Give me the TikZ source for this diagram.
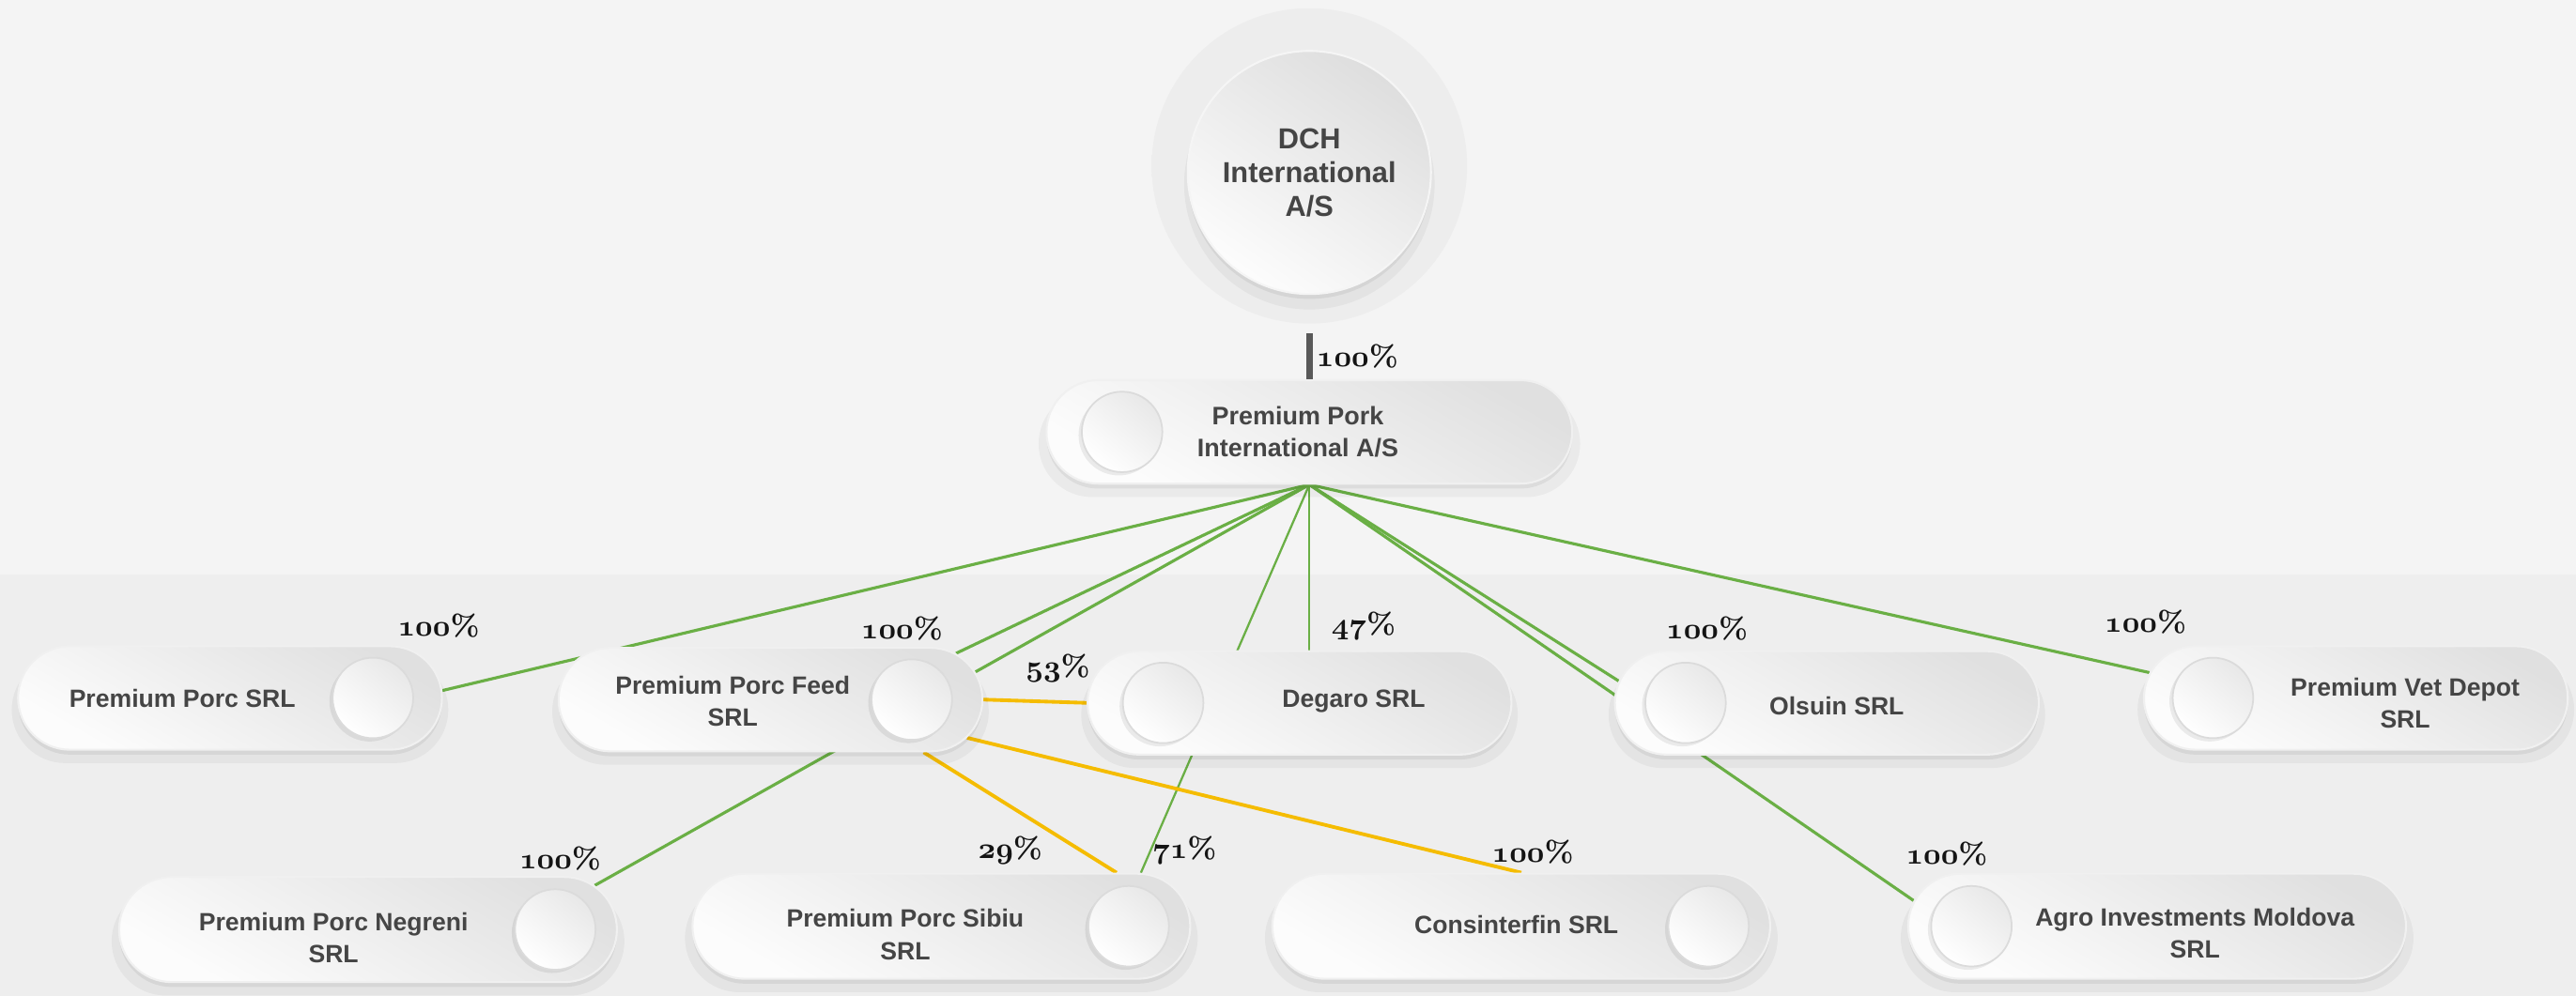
\documentclass[tikz,border=0pt]{standalone}
\usepackage{fontspec}
\newfontfamily\boxfont{Liberation Sans}
\usetikzlibrary{shapes.misc,shadows}
\definecolor{bgtop}{HTML}{F4F4F4}
\definecolor{bgbot}{HTML}{EEEEEE}
\definecolor{owngreen}{HTML}{6AAF45}
\definecolor{crossyellow}{HTML}{F5BC00}
\definecolor{boxtext}{HTML}{454545}
\pgfdeclarelayer{back}
\pgfdeclarelayer{links}
\pgfsetlayers{back,links,main}
\pgfdeclareradialshading{haloshade}{\pgfpoint{0bp}{0bp}}{color(0bp)=(black!7); color(37bp)=(black!7); color(39bp)=(black!5.5); color(50bp)=(bgtop)}
\newcommand\pc[1]{{\usefont{OML}{cmm}{b}{it}#1}\%}
\tikzset{
  softshadow/.style={drop shadow={shadow xshift=0pt,shadow yshift=-3.5pt,shadow scale=1.03,opacity=0.04,fill=black},
                     drop shadow={shadow xshift=0pt,shadow yshift=-1.5pt,opacity=0.06,fill=black}},
  pill/.style={rounded rectangle, minimum height=31.5pt, minimum width=129pt, inner sep=0pt,
               draw=black!6, line width=0.6pt, top color=black!12, bottom color=black!1, shading angle=-30, softshadow},
  widepill/.style={minimum width=151.5pt, minimum height=32pt},
  knob/.style={circle, minimum size=24.5pt, inner sep=0pt, draw=black!14, line width=0.5pt,
               top color=black!9, bottom color=white, shading angle=-40,
               drop shadow={shadow xshift=-1pt,shadow yshift=-1pt,opacity=0.07,fill=black}},
  firm/.style={font=\boxfont\bfseries\fontsize{7.6}{9.8}\selectfont, text=boxtext, align=center, inner sep=0pt},
  pct/.style={font=\bfseries\fontsize{9}{10}\selectfont, text=black!92, inner sep=0pt},
  own/.style={draw=owngreen, line width=0.9pt},
  ownthin/.style={draw=owngreen, line width=0.65pt},
  crossline/.style={draw=crossyellow, line width=1.1pt},
  holdbar/.style={draw=black!65, line width=1.9pt},
}
\begin{document}
\begin{tikzpicture}[x=0.5pt,y=-0.5pt]
  \useasboundingbox (0,0) rectangle (1568,606.5);
  \begin{pgfonlayer}{back}
    \fill[bgtop] (0,0) rectangle (1568,350);
    \fill[bgbot] (0,350) rectangle (1568,606.5);
  \end{pgfonlayer}

  % holding on top
  \node[circle, minimum size=96pt, shading=haloshade] (halo) at (797,101) {};
  \node[circle, minimum size=74pt, inner sep=0pt, draw=white!96!black, line width=0.6pt, top color=black!13, bottom color=black!1,
        shading angle=-35, softshadow, firm, font=\boxfont\bfseries\fontsize{8.8}{10.3}\selectfont] (dch) at (797,105) {DCH\\International\\A/S};

  \node[pill, minimum width=160pt] (pp) at (797,263) {};
  \node[knob] (pp-knob) at (683,263) {};
  \node[firm, font=\boxfont\bfseries\fontsize{7.7}{9.8}\selectfont] (pp-name) at (790,263) {Premium Pork\\International A/S};
  \coordinate (bartop) at (797,203);
  \draw[holdbar] (pp.north) -- (bartop);
  \node[pct, anchor=west] (pp-pct) at (801,217) {\pc{100}};

  % first row
  \node[pill] (porc) at (140,425) {};
  \node[knob] (porc-knob) at (227,425) {};
  \node[firm] (porc-name) at (111,425) {Premium Porc SRL};

  \node[pill] (feed) at (469,426) {};
  \node[knob] (feed-knob) at (555,426) {};
  \node[firm] (feed-name) at (446,427) {Premium Porc Feed\\SRL};

  \node[pill] (degaro) at (791,428) {};
  \node[knob] (degaro-knob) at (708,428) {};
  \node[firm] (degaro-name) at (824,427) {Degaro SRL};

  \node[pill] (olsuin) at (1112,428) {};
  \node[knob] (olsuin-knob) at (1026,428) {};
  \node[firm] (olsuin-name) at (1118,430) {Olsuin SRL};

  \node[pill] (vet) at (1434,425) {};
  \node[knob] (vet-knob) at (1347,425) {};
  \node[firm] (vet-name) at (1464,428) {Premium Vet Depot\\SRL};

  % second row
  \node[pill, widepill] (negreni) at (224,566) {};
  \node[knob] (negreni-knob) at (338,566) {};
  \node[firm] (negreni-name) at (203,571) {Premium Porc Negreni\\SRL};

  \node[pill, widepill] (sibiu) at (573,564) {};
  \node[knob] (sibiu-knob) at (687,564) {};
  \node[firm] (sibiu-name) at (551,569) {Premium Porc Sibiu\\SRL};

  \node[pill, widepill] (consin) at (926,564) {};
  \node[knob] (consin-knob) at (1040,564) {};
  \node[firm] (consin-name) at (923,563) {Consinterfin SRL};

  \node[pill, widepill] (agro) at (1313,564) {};
  \node[knob] (agro-knob) at (1200,564) {};
  \node[firm] (agro-name) at (1336,568) {Agro Investments Moldova\\SRL};

  % shares
  \node[pct] (porc-pct) at (267,381) {\pc{100}};
  \node[pct] (feed-pct) at (549,383) {\pc{100}};
  \node[pct] (degaro-pcta) at (644,407) {\pc{53}};
  \node[pct] (degaro-pctb) at (830,381) {\pc{47}};
  \node[pct] (olsuin-pct) at (1039,383) {\pc{100}};
  \node[pct] (vet-pct) at (1306,379) {\pc{100}};
  \node[pct] (negreni-pct) at (341,523) {\pc{100}};
  \node[pct] (sibiu-pcta) at (615,518) {\pc{29}};
  \node[pct] (sibiu-pctb) at (721,518) {\pc{71}};
  \node[pct] (consin-pct) at (933,519) {\pc{100}};
  \node[pct] (agro-pct) at (1185,520) {\pc{100}};

  \begin{pgfonlayer}{links}
    \draw[own] (pp.south) -- (porc.2);
    \draw[own] (pp.south) -- (feed.14);
    \draw[own] (pp.south) -- (negreni.11);
    \draw[ownthin] (pp.south) -- (pp.south |- degaro.north);
    \draw[ownthin] (pp.south) -- (sibiu.15);
    \draw[own] (pp.south) -- (olsuin.174);
    \draw[own] (pp.south) -- (agro.174);
    \draw[own] (pp.south) -- (vet.173);
    \draw[crossline] (feed.east) -- (degaro.west);
    \draw[crossline] (feed.-19) -- (sibiu.17);
    \draw[crossline] (feed.-11) -- (consin.north);
  \end{pgfonlayer}
\end{tikzpicture}
\end{document}
